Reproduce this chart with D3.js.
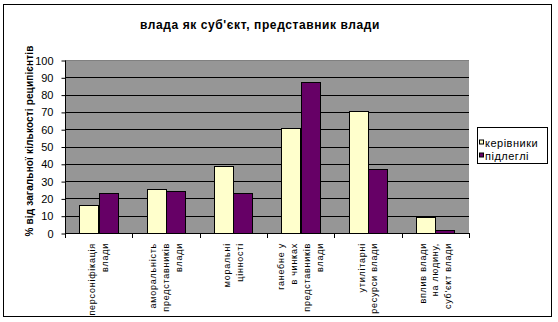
<!DOCTYPE html>
<html>
<head>
<meta charset="utf-8">
<script src="https://cdn.jsdelivr.net/npm/d3@7/dist/d3.min.js"></script>
<style>
  html, body { margin: 0; padding: 0; background: #fff; }
  svg { display: block; font-family: Arial, "Liberation Sans", sans-serif; }
</style>
</head>
<body>
<svg id="chart" width="558" height="322"></svg>
<script>
// Category labels (one array entry per line of the wrapped label)
const categories = [
  ["персоніфікація", "влади"],
  ["аморальність", "представників", "влади"],
  ["моральні", "цінності"],
  ["ганебне у", "в чинках", "представників", "влади"],
  ["утилітарні", "ресурси влади"],
  ["вплив влади", "на людину,", "суб'єкт влади"]
];
const seriesNames = ["керівники", "підлеглі"];
const kerivnyky = [16, 25.5, 38.5, 60.6, 70.5, 9.5];
const pidlegli = [23, 24.5, 23, 87, 37, 2];
const yTicks = [0, 10, 20, 30, 40, 50, 60, 70, 80, 90, 100];
const titleText = "влада як суб'єкт, представник влади";
const yTitle = "% від загальної кількості реципієнтів";

const colors = ["#FFFFCC", "#660066"];
const svg = d3.select("#chart");

// outer frame
svg.append("rect").attr("x", 3.5).attr("y", 4.5).attr("width", 548).attr("height", 312)
  .attr("fill", "#fff").attr("stroke", "#000").attr("stroke-width", 1);

const plot = { left: 65, right: 469, top: 60, bottom: 233 };

const x = d3.scaleBand().domain(d3.range(categories.length))
  .range([plot.left, plot.right]).paddingInner(0).paddingOuter(0);
const groupPad = 0.4286; // gap between groups relative to category width
const x1 = d3.scaleBand().domain([0, 1])
  .range([x.bandwidth() * groupPad / 2, x.bandwidth() * (1 - groupPad / 2)]);
const y = d3.scaleLinear().domain([0, 100]).range([plot.bottom, plot.top]);

// plot background
svg.append("rect").attr("x", plot.left).attr("y", plot.top)
  .attr("width", plot.right - plot.left).attr("height", plot.bottom - plot.top)
  .attr("fill", "#969696");

// gridlines
svg.append("g").selectAll("line").data(yTicks.filter(t => t > 0)).join("line")
  .attr("x1", plot.left).attr("x2", plot.right)
  .attr("y1", d => Math.round(y(d)) + 0.5).attr("y2", d => Math.round(y(d)) + 0.5)
  .attr("stroke", d => d === 100 ? "#808080" : "#000").attr("stroke-width", 1);

// bars
const series = [kerivnyky, pidlegli];
series.forEach((vals, si) => {
  svg.append("g").selectAll("rect").data(vals).join("rect")
    .attr("x", (d, i) => Math.round(x(i) + x1(si)) + 0.5)
    .attr("y", d => Math.round(y(d)) + 0.5)
    .attr("width", Math.round(x1.bandwidth()))
    .attr("height", d => Math.round(y(0)) - Math.round(y(d)))
    .attr("fill", colors[si]).attr("stroke", "#000").attr("stroke-width", 1);
});

// y axis
const yAxis = d3.axisLeft(y).tickValues(yTicks).tickSize(4).tickPadding(8);
const gy = svg.append("g").attr("transform", `translate(${plot.left + 0.5},0.5)`).call(yAxis);
gy.select(".domain").attr("stroke", "#000").attr("d", `M0,${plot.top}V${plot.bottom}`);
gy.selectAll(".tick line").attr("stroke", "#000");
gy.selectAll(".tick text").attr("font-size", 11).attr("fill", "#000")
  .attr("font-family", "Arial, 'Liberation Sans', sans-serif");

// x axis line with ticks at category boundaries
const gx = svg.append("g");
gx.append("line").attr("x1", plot.left).attr("x2", plot.right)
  .attr("y1", plot.bottom + 0.5).attr("y2", plot.bottom + 0.5).attr("stroke", "#000");
gx.selectAll("line.tk").data(d3.range(categories.length + 1)).join("line").attr("class", "tk")
  .attr("x1", i => Math.round(plot.left + i * x.bandwidth()) + 0.5)
  .attr("x2", i => Math.round(plot.left + i * x.bandwidth()) + 0.5)
  .attr("y1", plot.bottom).attr("y2", plot.bottom + 5).attr("stroke", "#000");

// rotated category labels
const lineGap = 12.8;
categories.forEach((lines, i) => {
  const cx = x(i) + x.bandwidth() / 2;
  const n = lines.length;
  lines.forEach((t, k) => {
    const lx = cx + (k - (n - 1) / 2) * lineGap + 3;
    svg.append("text")
      .attr("transform", `translate(${lx},243) rotate(-90)`)
      .attr("text-anchor", "end")
      .attr("font-size", 9)
      .attr("letter-spacing", 0.75)
      .attr("fill", "#000")
      .text(t);
  });
});

// title
svg.append("text").attr("x", 260).attr("y", 29).attr("text-anchor", "middle")
  .attr("font-size", 12).attr("font-weight", "bold").attr("letter-spacing", 0.6)
  .attr("fill", "#000").text(titleText);

// y axis title
svg.append("text").attr("transform", `translate(33,141) rotate(-90)`)
  .attr("text-anchor", "middle").attr("font-size", 10).attr("font-weight", "bold")
  .attr("letter-spacing", 0.15)
  .attr("fill", "#000").text(yTitle);

// legend
const lg = svg.append("g").attr("transform", "translate(477.5,127.5)");
lg.append("rect").attr("width", 70).attr("height", 36).attr("fill", "#fff").attr("stroke", "#000");
seriesNames.forEach((name, i) => {
  const yy = 13 + i * 13;
  lg.append("rect").attr("x", 2).attr("y", yy - 0.5).attr("width", 4).attr("height", 4)
    .attr("fill", colors[i]).attr("stroke", "#000");
  lg.append("text").attr("x", 7.5).attr("y", yy + 6).attr("font-size", 11)
    .attr("letter-spacing", 0.5)
    .attr("fill", "#000").text(name);
});
</script>
</body>
</html>
